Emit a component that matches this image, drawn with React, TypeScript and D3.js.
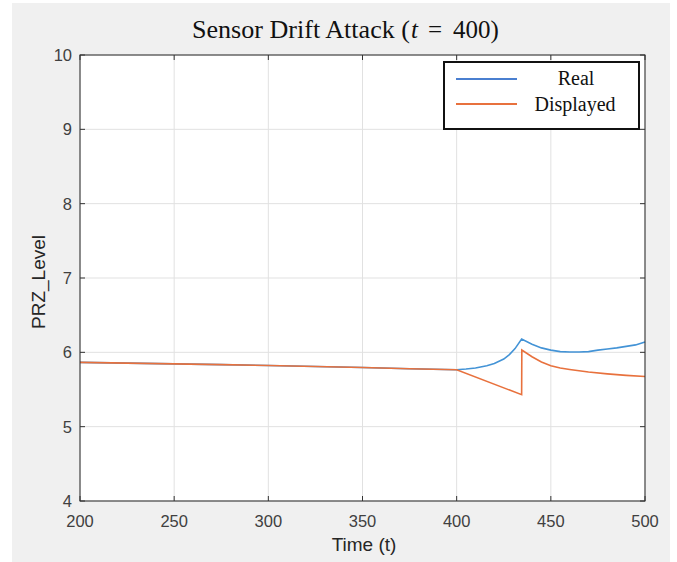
import React from "react";
import * as d3 from "d3";

const xTicks = [200, 250, 300, 350, 400, 450, 500];
const yTicks = [4, 5, 6, 7, 8, 9, 10];

// shared pre-attack segment
const preT = [200, 225, 250, 275, 300, 325, 350, 375, 400];
const preV = [5.865, 5.855, 5.845, 5.835, 5.822, 5.81, 5.795, 5.78, 5.765];

// Real after attack start
const realT = [405, 410, 416, 420, 425, 428, 431, 434.5, 440, 445, 450, 455, 460, 465, 470, 475, 480, 485, 490, 495, 500];
const realV = [5.775, 5.79, 5.82, 5.85, 5.91, 5.97, 6.05, 6.18, 6.11, 6.06, 6.03, 6.01, 6.005, 6.005, 6.01, 6.03, 6.045, 6.06, 6.08, 6.1, 6.14];

// Displayed after attack start
const dispT = [434.5, 434.6, 440, 445, 450, 455, 460, 470, 480, 490, 500];
const dispV = [5.43, 6.03, 5.94, 5.87, 5.82, 5.79, 5.77, 5.735, 5.71, 5.69, 5.675];

const W = 677, H = 562;
const L = 80, R = 645, T = 55, B = 501;

export default function App() {
  const x = d3.scaleLinear().domain([200, 500]).range([L, R]);
  const y = d3.scaleLinear().domain([4, 10]).range([B, T]);
  const line = d3.line<[number, number]>().x(d => x(d[0])).y(d => y(d[1]));
  const pre = preT.map((t, i) => [t, preV[i]] as [number, number]);
  const real = [...pre, ...realT.map((t, i) => [t, realV[i]] as [number, number])];
  const disp = [...pre, ...dispT.map((t, i) => [t, dispV[i]] as [number, number])];
  const blue = "#4393d6";
  const orange = "#e8713d";
  const tickColor = "#333";
  const sans = "'Liberation Sans', Arial, sans-serif";
  const serif = "'Liberation Serif', 'Times New Roman', serif";
  return (
    <svg width={W} height={H} style={{ position: "absolute", left: 0, top: 0, background: "#fff" }}>
      <rect x={12} y={3} width={658} height={559} fill="#f0f0f0" />
      <rect x={L} y={T} width={R - L} height={B - T} fill="#fff" />
      {xTicks.map(t => (
        <line key={"gx" + t} x1={x(t)} x2={x(t)} y1={T} y2={B} stroke="#e1e1e1" strokeWidth={1} />
      ))}
      {yTicks.map(v => (
        <line key={"gy" + v} x1={L} x2={R} y1={y(v)} y2={y(v)} stroke="#e1e1e1" strokeWidth={1} />
      ))}
      <path d={line(real) || ""} fill="none" stroke={blue} strokeWidth={1.6} />
      <path d={line(disp) || ""} fill="none" stroke={orange} strokeWidth={1.6} />
      <rect x={L} y={T} width={R - L} height={B - T} fill="none" stroke="#262626" strokeWidth={1} />
      {xTicks.map(t => (
        <g key={"tx" + t}>
          <line x1={x(t)} x2={x(t)} y1={B} y2={B - 5} stroke={tickColor} />
          <line x1={x(t)} x2={x(t)} y1={T} y2={T + 5} stroke={tickColor} />
          <text x={x(t)} y={527} textAnchor="middle" fontFamily={sans} fontSize={16.5} fill="#404040">{t}</text>
        </g>
      ))}
      {yTicks.map(v => (
        <g key={"ty" + v}>
          <line x1={L} x2={L + 5} y1={y(v)} y2={y(v)} stroke={tickColor} />
          <line x1={R} x2={R - 5} y1={y(v)} y2={y(v)} stroke={tickColor} />
          <text x={L - 8} y={y(v) + 6} textAnchor="end" fontFamily={sans} fontSize={16.5} fill="#404040">{v}</text>
        </g>
      ))}
      <text x={364} y={551} textAnchor="middle" fontFamily={sans} fontSize={19} fill="#262626">Time (t)</text>
      <text transform={`translate(45,282) rotate(-90)`} textAnchor="middle" fontFamily={sans} fontSize={19} fill="#262626">PRZ_Level</text>
      <g fontFamily={serif} fontSize={25} fill="#111">
        <text x={192} y={38} textLength={218} lengthAdjust="spacingAndGlyphs">Sensor Drift Attack (</text>
        <text x={411} y={38} fontStyle="italic">t</text>
        <text x={428} y={38}>=</text>
        <text x={453} y={38}>400)</text>
      </g>
      <rect x={444} y={62} width={195} height={67} fill="#fff" stroke="#111" strokeWidth={2} />
      <line x1={456} x2={517} y1={79} y2={79} stroke="#4a7fd0" strokeWidth={2} />
      <line x1={456} x2={517} y1={104} y2={104} stroke={orange} strokeWidth={2} />
      <text x={576} y={85} textAnchor="middle" fontFamily={serif} fontSize={20} fill="#111">Real</text>
      <text x={575} y={111} textAnchor="middle" fontFamily={serif} fontSize={20} fill="#111">Displayed</text>
    </svg>
  );
}
